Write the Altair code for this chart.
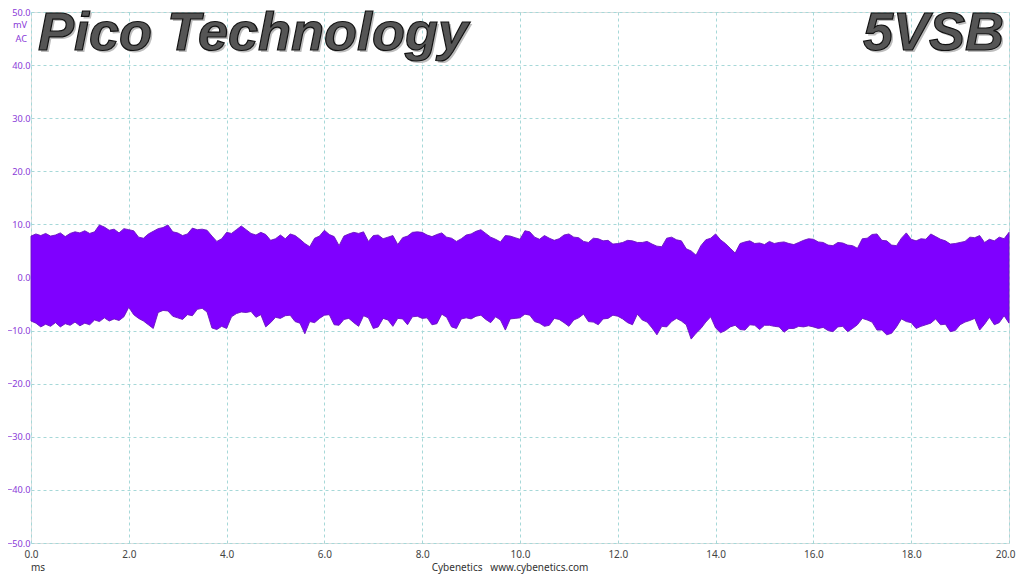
import altair as alt
import pandas as pd

# time axis (ms), 0.1 ms step
t_ms = [round(i * 0.1, 1) for i in range(201)]

# upper envelope (mV)
upper = [
    7.8, 8.2, 7.9, 8.3, 7.8, 8.0, 8.4, 7.7, 8.3, 8.6,
    8.4, 8.8, 8.3, 8.6, 9.9, 9.5, 8.9, 9.1, 8.4, 9.2,
    9.0, 8.8, 7.6, 7.4, 8.2, 8.7, 9.2, 9.4, 9.9, 8.6,
    8.4, 7.9, 8.2, 9.3, 9.0, 9.1, 8.9, 7.8, 6.8, 7.3,
    8.5, 8.3, 9.0, 9.7, 9.0, 8.3, 8.0, 8.5, 8.1, 7.0,
    7.3, 8.0, 7.3, 8.2, 7.9, 7.2, 6.4, 5.8, 7.4, 7.8,
    8.9, 8.1, 7.7, 6.0, 7.8, 8.2, 8.5, 8.3, 8.6, 6.8,
    7.9, 8.0, 7.3, 7.6, 7.9, 6.2, 7.5, 7.8, 8.5, 8.6,
    8.5, 8.0, 7.7, 8.1, 8.4, 7.6, 7.4, 6.8, 7.3, 8.0,
    8.2, 8.7, 9.0, 8.3, 7.6, 7.2, 6.7, 7.9, 7.8, 7.5,
    7.2, 8.8, 8.6, 7.6, 7.2, 7.9, 7.4, 7.0, 7.3, 8.0,
    8.2, 7.6, 7.5, 6.8, 6.6, 7.4, 7.3, 6.9, 7.0, 6.3,
    6.4, 6.6, 7.0, 6.9, 6.6, 6.6, 6.8, 6.3, 5.9, 5.8,
    7.4, 7.6, 7.1, 6.9, 5.4, 5.0, 4.2, 6.0, 7.1, 7.4,
    8.2, 7.1, 6.4, 5.5, 4.6, 6.4, 6.7, 6.9, 6.4, 6.5,
    6.2, 6.8, 6.4, 6.6, 6.7, 6.4, 6.2, 6.6, 7.0, 7.3,
    7.2, 6.7, 6.6, 6.1, 6.0, 6.6, 6.5, 6.1, 6.0, 5.5,
    7.3, 7.4, 8.1, 8.2, 7.0, 6.9, 6.1, 6.0, 7.4, 8.4,
    7.2, 6.9, 7.3, 7.2, 8.2, 7.7, 7.2, 6.9, 6.3, 6.4,
    6.6, 6.8, 7.6, 7.5, 7.9, 6.6, 7.2, 6.9, 7.6, 7.3,
    8.5,
]

# lower envelope (mV)
lower = [
    -8.2, -8.6, -9.3, -8.8, -9.2, -8.5, -9.3, -8.7, -9.0, -8.4,
    -9.1, -8.6, -8.9, -8.0, -8.3, -7.6, -8.2, -7.8, -8.1, -7.4,
    -5.6, -7.0, -7.7, -8.2, -8.9, -9.6, -6.6, -6.2, -6.3, -7.3,
    -7.6, -7.9, -7.0, -7.2, -6.0, -5.8, -6.5, -9.5, -9.8, -9.2,
    -9.6, -7.4, -6.8, -6.5, -6.6, -6.4, -7.5, -7.0, -9.3, -8.5,
    -7.5, -7.7, -7.2, -7.1, -8.3, -8.6, -10.6, -8.3, -8.5, -7.7,
    -7.1, -7.0, -8.9, -9.0, -7.9, -7.7, -8.5, -9.2, -7.2, -7.6,
    -9.6, -9.3, -7.7, -8.0, -9.2, -7.7, -7.8, -8.9, -7.4, -7.3,
    -7.7, -7.6, -8.9, -8.7, -6.9, -7.5, -9.3, -9.6, -7.8, -7.6,
    -7.8, -7.3, -7.1, -7.9, -8.5, -7.4, -8.0, -9.9, -7.8, -7.7,
    -7.6, -6.9, -7.1, -8.3, -8.6, -9.2, -9.0, -7.7, -7.9, -8.5,
    -9.2, -8.0, -7.6, -6.9, -8.3, -8.4, -8.9, -7.8, -7.7, -7.1,
    -7.3, -7.8, -8.5, -8.9, -6.9, -8.0, -8.4, -9.5, -10.8, -9.2,
    -9.3, -8.3, -7.7, -8.2, -8.9, -11.6, -10.5, -9.6, -8.4, -7.4,
    -9.5, -10.4, -10.0, -9.3, -9.0, -9.8, -9.9, -8.9, -9.0, -9.8,
    -9.0, -9.0, -9.2, -9.3, -10.3, -9.6, -9.6, -9.2, -9.3, -9.1,
    -9.3, -9.6, -9.4, -10.0, -10.2, -9.3, -9.2, -10.2, -9.6, -8.9,
    -7.7, -8.0, -8.4, -9.9, -9.9, -10.8, -10.5, -9.3, -7.8, -8.3,
    -8.5, -9.6, -9.2, -8.9, -8.6, -7.8, -8.9, -8.8, -10.2, -10.0,
    -8.9, -8.4, -8.1, -7.7, -9.9, -8.8, -7.5, -8.9, -8.5, -7.2,
    -8.6,
]

x_ticks = [0, 2, 4, 6, 8, 10, 12, 14, 16, 18, 20]
y_ticks = [-50, -40, -30, -20, -10, 0, 10, 20, 30, 40, 50]

title_left = ["Pico Technology"]
title_right = ["5VSB"]
unit_lines = ["mV", "AC"]
x_unit = ["ms"]
footer = ["Cybenetics\u00a0\u00a0\u00a0www.cybenetics.com"]

W, H = 978, 531
TOP = 4
PURPLE_TXT = "#8a3ad8"
GRID = "#a6d8d8"
FONT = "Noto Sans"

df = pd.DataFrame({"t": t_ms, "hi": upper, "lo": lower})

xs = alt.Scale(domain=[0, 20], nice=False, zero=False)
ys = alt.Scale(domain=[-50, 50], nice=False, zero=False)

area = alt.Chart(df).mark_area(
    color="#7f00ff", stroke="#6a12bf", strokeWidth=0.9, opacity=1
).encode(
    x=alt.X("t:Q", scale=xs, axis=alt.Axis(
        values=x_ticks, format=".1f", title=None, grid=True,
        gridColor=GRID, gridDash=[3, 3], gridWidth=1,
        domain=False, ticks=False, labelPadding=6, labelFlush=False,
        labelAlign={"condition": {"test": "datum.value >= 20", "value": "right"},
                    "value": "center"},
        labelOffset={"condition": {"test": "datum.value >= 20", "value": 6},
                     "value": 0},
        labelColor="#444444", labelFont=FONT, labelFontSize=10,
    )),
    y=alt.Y("hi:Q", scale=ys, axis=alt.Axis(
        values=y_ticks, format=".1f", title=None, grid=True,
        gridColor=GRID, gridDash=[3, 3], gridWidth=1,
        domain=False, ticks=False, labelPadding=1, labelFlush=False,
        labelColor=PURPLE_TXT, labelFont=FONT, labelFontSize=9.2,
    )),
    y2="lo:Q",
)

def txt(lst, **kw):
    return alt.Chart(pd.DataFrame({"s": lst})).mark_text(**kw).encode(text="s:N")

title_kw = dict(font="Liberation Sans", fontSize=54, fontStyle="italic",
                fontWeight="bold", baseline="alphabetic")
TY = 42 - TOP

t1s = txt(title_left, align="left", color="#bdbdbd", dx=2, dy=2, **title_kw).encode(
    x=alt.value(7), y=alt.value(TY))
t1 = txt(title_left, align="left", color="#555555", stroke="#111111",
         strokeWidth=1.2, **title_kw).encode(x=alt.value(7), y=alt.value(TY))
t2s = txt(title_right, align="right", color="#bdbdbd", dx=2, dy=2, **title_kw).encode(
    x=alt.value(973), y=alt.value(TY))
t2 = txt(title_right, align="right", color="#555555", stroke="#111111",
         strokeWidth=1.2, **title_kw).encode(x=alt.value(973), y=alt.value(TY))

mv = alt.Chart(pd.DataFrame({"s": unit_lines, "yy": [25 - 8 - TOP, 39 - 8 - TOP]})).mark_text(
    align="right", baseline="middle", font=FONT, fontSize=9.2, color=PURPLE_TXT
).encode(text="s:N", x=alt.value(-4), y=alt.Y("yy:Q", scale=None))

ms = txt(x_unit, align="center", baseline="middle", font=FONT, fontSize=10,
         color="#333333").encode(x=alt.value(7), y=alt.value(568 - 8 - TOP))
foot = txt(footer, align="center", baseline="middle", font=FONT, fontSize=10,
           color="#333333").encode(x=alt.value(479), y=alt.value(568 - 8 - TOP))

chart = alt.layer(area, t1s, t1, t2s, t2, mv, ms, foot).properties(
    width=W, height=H,
    autosize=alt.AutoSizeParams(type="none"),
    padding={"left": 23, "top": TOP, "right": 7, "bottom": 34},
).configure_view(stroke=None).configure(background="white")

chart.save("out.html", embed_options={"renderer": "svg", "actions": False})
